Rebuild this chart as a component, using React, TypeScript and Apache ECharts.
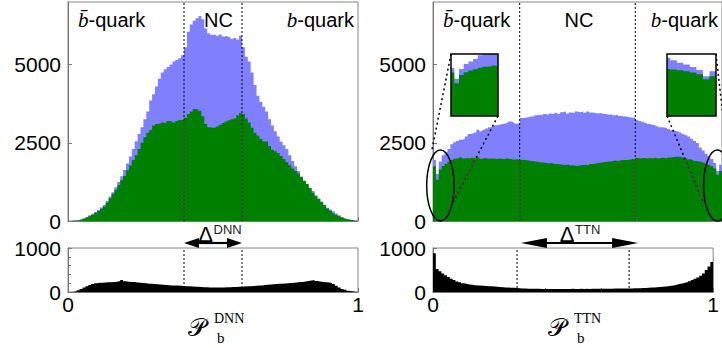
import React, { useEffect, useRef } from 'react';
import * as echarts from 'echarts';

// ---- data (100 bins over [0,1]) ----
const dnnTotal = [0,5,15,30,55,85,130,180,230,290,
350,430,510,640,780,920,1080,1250,1430,1630,
1840,2060,2300,2550,2780,3000,3250,3500,3850,4050,
4300,4550,4750,4850,4920,5000,5100,5150,5200,5300,
5550,6050,6280,6400,6480,6550,6450,6150,6000,5950,
5950,5920,5960,5900,5920,5880,5820,5850,5800,5920,
5550,5250,5100,4750,4350,4000,3800,3650,3500,3250,
3050,2870,2700,2530,2420,2300,2100,1920,1750,1600,
1420,1260,1150,1060,960,820,720,620,510,420,
370,310,240,180,130,90,60,35,15,5];

const dnnCorrect = [0,5,12,25,45,70,110,150,200,260,
320,390,460,590,730,870,1000,1150,1300,1440,
1620,1780,1950,2100,2300,2500,2680,2820,2920,3050,
3100,3120,3150,3130,3200,3180,3150,3200,3230,3230,
3300,3420,3500,3580,3570,3520,3350,3100,3000,2980,
2990,3020,3080,3130,3180,3220,3250,3280,3380,3450,
3420,3280,3150,2980,2820,2730,2620,2540,2550,2400,
2280,2230,2170,2080,1980,1880,1780,1680,1600,1520,
1400,1290,1180,1050,900,790,700,600,500,400,
330,250,190,150,110,75,50,28,10,3];

const dnnDiff = [0,5,15,40,70,100,130,160,180,200,
210,210,215,220,220,230,235,250,270,245,
235,230,225,215,210,205,200,190,185,180,
175,170,165,160,155,150,150,145,140,135,
130,130,125,120,120,115,110,110,105,100,
100,105,100,105,108,110,112,115,118,120,
125,128,130,135,140,145,150,160,165,170,
175,180,185,190,195,200,205,210,215,225,
230,240,250,260,270,250,240,230,220,215,
205,180,140,100,70,50,30,15,5,0];

const ttnTotal = [1950,1500,1900,2100,2200,2300,2450,2520,2560,2600,
2620,2700,2780,2800,2830,2920,2870,2920,2960,3000,
3020,3060,3080,3100,3120,3140,3180,3160,3120,3110,
3290,3300,3320,3340,3350,3380,3400,3380,3420,3400,
3440,3420,3460,3430,3480,3500,3440,3470,3450,3500,
3480,3500,3460,3500,3470,3460,3440,3450,3430,3420,
3400,3410,3380,3400,3360,3350,3340,3320,3300,3310,
3240,3200,3170,3130,3100,3080,3060,3030,3000,2990,
2970,2940,2900,2880,2860,2830,2780,2740,2700,2630,
2560,2490,2350,2250,2150,2080,1980,1850,1600,1800];

const ttnCorrect = [1750,1320,1650,1760,1830,1890,1950,1990,2010,2040,
2000,2010,1990,2020,2000,2030,1990,2010,1990,2000,
2000,1980,2000,1990,1970,2000,1980,1960,1970,1950,
1960,1950,1930,1920,1910,1890,1880,1870,1860,1840,
1850,1830,1820,1810,1800,1790,1810,1780,1770,1760,
1780,1790,1800,1790,1820,1830,1850,1860,1880,1890,
1900,1910,1930,1920,1940,1950,1950,1960,1980,1970,
2010,2000,2010,2000,2010,2000,2020,2000,2010,2020,
2000,2030,2040,2050,2060,2040,2030,2000,1970,1950,
1920,1900,1900,1870,1840,1800,1750,1680,1480,1600];

const ttnDiff = [880,520,470,420,380,340,300,270,240,220,
200,185,170,165,155,150,145,140,135,130,
130,125,120,115,110,105,100,98,95,90,
85,80,78,76,75,74,72,72,70,70,
70,68,70,68,70,70,68,70,70,72,
70,70,72,70,72,70,72,74,72,74,
75,76,75,76,78,78,80,80,80,82,
82,84,86,88,90,92,95,100,105,110,
115,120,125,130,140,150,165,180,195,210,
225,245,270,300,330,370,420,500,580,680];

const dnnCuts = [0.4, 0.6];
const ttnCuts = [0.3, 0.7];
const yMainTicks = { max: 7000, interval: 2500 };
const yDiffTicks = { max: 1000, interval: 1000 };

const BLUE = '#8080ff';
const GREEN = '#008000';
const SANS = 'Liberation Sans';
const SERIF = 'Liberation Serif';

const N = 100;
const toSteps = (vals: number[]) => {
  const d: number[][] = vals.map((v, i) => [i / N, v]);
  d.push([1, vals[N - 1]]);
  return d;
};

// grid layout
const G = [
  { left: 68, top: 2, width: 290, height: 219 },
  { left: 68, top: 248, width: 290, height: 44 },
  { left: 433, top: 2, width: 293, height: 219 },
  { left: 433, top: 248, width: 293, height: 44 },
  { left: 451, top: 54, width: 47, height: 62 },
  { left: 667, top: 54, width: 49, height: 62 },
];

const px = (g: number, v: number) => G[g].left + v * G[g].width;

function hist(vals: number[], color: string, idx: number) {
  return {
    type: 'line',
    xAxisIndex: idx,
    yAxisIndex: idx,
    step: 'end',
    symbol: 'none',
    showSymbol: false,
    silent: true,
    clip: true,
    data: toSteps(vals),
    lineStyle: { width: 0, color },
    areaStyle: { color, opacity: 1 },
  };
}

function cutLines(cuts: number[], idx: number, top: number) {
  return cuts.map((c) => ({
    type: 'line',
    xAxisIndex: idx,
    yAxisIndex: idx,
    symbol: 'none',
    showSymbol: false,
    silent: true,
    z: 5,
    data: [[c, 0], [c, top]],
    lineStyle: { color: '#000', type: [2, 2], width: 1 },
  }));
}

function xAx(idx: number, labels: boolean) {
  return {
    type: 'value',
    gridIndex: idx,
    min: 0,
    max: 1,
    interval: 0.2,
    axisLine: { show: true, lineStyle: { color: '#777', width: 1 } },
    axisTick: { show: true, inside: true, length: 4, lineStyle: { color: '#777' } },
    splitLine: { show: false },
    axisLabel: labels
      ? {
          show: true,
          margin: 2,
          fontSize: 21,
          fontFamily: SANS,
          color: '#000',
          formatter: (v: number) => (v === 0 ? '0' : v === 1 ? '1' : ''),
        }
      : { show: false },
  };
}

function yAx(idx: number, t: { max: number; interval: number }, minor: boolean) {
  return {
    type: 'value',
    gridIndex: idx,
    min: 0,
    max: t.max,
    interval: t.interval,
    axisLine: { show: true, lineStyle: { color: '#777', width: 1 } },
    axisTick: { show: true, inside: true, length: 4, lineStyle: { color: '#777' } },
    minorTick: minor ? { show: true, splitNumber: 5, length: 3, lineStyle: { color: '#777' } } : { show: false },
    splitLine: { show: false },
    axisLabel: {
      show: true,
      margin: 7,
      fontSize: 21,
      fontFamily: SANS,
      color: '#000',
      showMaxLabel: t.max === t.interval,
      formatter: (v: number) => String(Math.round(v)),
    },
  };
}

function quarkLabels(g: number) {
  const l = G[g].left;
  const nc = g === 0 ? 218.5 : 579;
  const rEnd = g === 0 ? 354 : 718;
  const rich = {
    i: { fontFamily: SERIF, fontStyle: 'italic', fontSize: 21, fill: '#000' },
    s: { fontFamily: SANS, fontSize: 20, fill: '#000' },
  };
  return [
    { type: 'text', x: l + 10, y: 20, z: 50, style: { text: '{i|b\u0304}{s|-quark}', rich, textAlign: 'left', textVerticalAlign: 'middle' } },
    { type: 'text', x: nc, y: 20, z: 50, style: { text: 'NC', fontFamily: SANS, fontSize: 20, fill: '#000', textAlign: 'center', textVerticalAlign: 'middle' } },
    { type: 'text', x: rEnd, y: 20, z: 50, style: { text: '{i|b}{s|-quark}', rich, textAlign: 'right', textVerticalAlign: 'middle' } },
  ];
}

function arrow(x1: number, x2: number, y: number, L: number, h: number) {
  return [
    { type: 'line', z: 50, shape: { x1: x1 + L - 1, y1: y, x2: x2 - L + 1, y2: y }, style: { stroke: '#000', lineWidth: 2.2 } },
    { type: 'polygon', z: 50, shape: { points: [[x1, y], [x1 + L, y - h], [x1 + L, y + h]] }, style: { fill: '#000' } },
    { type: 'polygon', z: 50, shape: { points: [[x2, y], [x2 - L, y - h], [x2 - L, y + h]] }, style: { fill: '#000' } },
  ];
}

function delta(cx: number, sup: string) {
  return [
    { type: 'text', x: cx, y: 234.5, z: 51, style: { text: 'Δ', fontFamily: SANS, fontSize: 22, fill: '#000', textAlign: 'center', textVerticalAlign: 'middle' } },
    { type: 'text', x: cx + 8, y: 229, z: 51, style: { text: sup, fontFamily: SANS, fontSize: 13, fill: '#222', textAlign: 'left', textVerticalAlign: 'middle' } },
  ];
}

function axisTitle(x: number, sup: string) {
  return [
    { type: 'text', x, y: 327, z: 50, style: { text: '𝒫', fontFamily: 'DejaVu Serif', fontSize: 25, fill: '#000', textAlign: 'left', textVerticalAlign: 'middle' } },
    { type: 'text', x: x + 26, y: 318, z: 50, style: { text: sup, fontFamily: SERIF, fontSize: 14, fill: '#000', textAlign: 'left', textVerticalAlign: 'middle' } },
    { type: 'text', x: x + 29, y: 338, z: 50, style: { text: 'b', fontFamily: SERIF, fontSize: 15, fill: '#000', textAlign: 'left', textVerticalAlign: 'middle' } },
  ];
}

export default function App() {
  const ref = useRef<HTMLDivElement>(null);
  useEffect(() => {
    if (!ref.current) return;
    const chart = echarts.init(ref.current, undefined, { renderer: 'svg' });
    const dotted = { stroke: '#000', lineWidth: 1.5, lineDash: [2, 3], fill: 'none' };
    const ell = { fill: 'none', stroke: '#000', lineWidth: 1.5 };
    const option: any = {
      animation: false,
      backgroundColor: '#fff',
      grid: G.map((g, i) => ({
        ...g,
        show: i < 4,
        borderColor: '#888',
        borderWidth: 1,
        backgroundColor: i >= 4 ? '#fff' : 'transparent',
        containLabel: false,
      })),
      xAxis: [
        xAx(0, false),
        xAx(1, true),
        xAx(2, false),
        xAx(3, true),
        { type: 'value', gridIndex: 4, min: 0.003, max: 0.103, show: false },
        { type: 'value', gridIndex: 5, min: 0.925, max: 1.0, show: false },
      ],
      yAxis: [
        yAx(0, yMainTicks, false),
        yAx(1, yDiffTicks, true),
        yAx(2, yMainTicks, false),
        yAx(3, yDiffTicks, true),
        { type: 'value', gridIndex: 4, min: 0, max: 2500, show: false },
        { type: 'value', gridIndex: 5, min: 0, max: 2500, show: false },
      ],
      series: [
        hist(dnnTotal, BLUE, 0),
        hist(dnnCorrect, GREEN, 0),
        hist(dnnDiff, '#000', 1),
        hist(ttnTotal, BLUE, 2),
        hist(ttnCorrect, GREEN, 2),
        hist(ttnDiff, '#000', 3),
        hist(ttnTotal, BLUE, 4),
        hist(ttnCorrect, GREEN, 4),
        hist(ttnTotal, BLUE, 5),
        hist(ttnCorrect, GREEN, 5),
        ...cutLines(dnnCuts, 0, yMainTicks.max),
        ...cutLines(dnnCuts, 1, yDiffTicks.max),
        ...cutLines(ttnCuts, 2, yMainTicks.max),
        ...cutLines(ttnCuts, 3, yDiffTicks.max),
      ],
      graphic: [
        ...quarkLabels(0),
        ...quarkLabels(2),
        ...arrow(px(1, dnnCuts[0]), px(1, dnnCuts[1]), 243, 15, 5),
        ...arrow(px(3, ttnCuts[0]), px(3, ttnCuts[1]), 243, 26, 5),
        ...delta(205.5, 'DNN'),
        ...delta(567, 'TTN'),
        ...axisTitle(188, 'DNN'),
        ...axisTitle(548, 'TTN'),
        // ellipses marking the zoomed regions
        { type: 'ellipse', z: 40, shape: { cx: 440.4, cy: 185.5, rx: 13.7, ry: 35.5 }, style: ell },
        { type: 'ellipse', z: 40, shape: { cx: 717.3, cy: 185.5, rx: 13.7, ry: 35.5 }, style: ell },
        // connectors
        { type: 'line', z: 40, shape: { x1: G[4].left, y1: G[4].top, x2: 431.5, y2: 152 }, style: dotted },
        { type: 'line', z: 40, shape: { x1: G[4].left + G[4].width, y1: G[4].top + G[4].height, x2: 451.5, y2: 205 }, style: dotted },
        { type: 'line', z: 40, shape: { x1: G[5].left, y1: G[5].top + G[5].height, x2: 703.5, y2: 203 }, style: dotted },
        { type: 'line', z: 40, shape: { x1: G[5].left + G[5].width, y1: G[5].top, x2: 727, y2: 152 }, style: dotted },
        // inset frames
        { type: 'rect', z: 60, shape: { x: G[4].left, y: G[4].top, width: G[4].width, height: G[4].height }, style: { fill: 'none', stroke: '#000', lineWidth: 1.5 } },
        { type: 'rect', z: 60, shape: { x: G[5].left, y: G[5].top, width: G[5].width, height: G[5].height }, style: { fill: 'none', stroke: '#000', lineWidth: 1.5 } },
      ],
    };
    chart.setOption(option);
    return () => chart.dispose();
  }, []);
  return (
    <div
      ref={ref}
      style={{ position: 'fixed', left: 0, top: 0, width: 722, height: 348, background: '#fff' }}
    />
  );
}
